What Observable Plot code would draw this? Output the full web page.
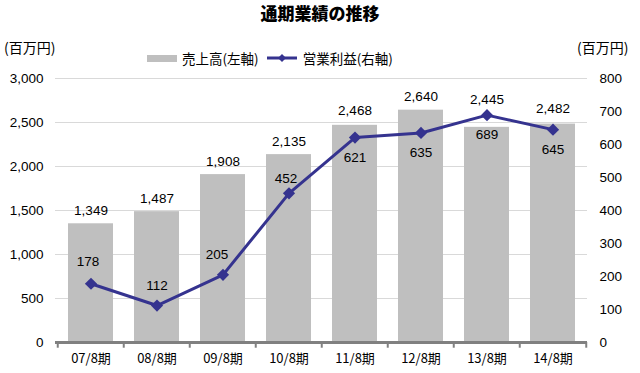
<!DOCTYPE html>
<html><head><meta charset="utf-8">
<script src="https://cdn.jsdelivr.net/npm/d3@7"></script>
<script src="https://cdn.jsdelivr.net/npm/@observablehq/plot@0.6"></script>
<style>
body{margin:0;background:#fff;font-family:"Liberation Sans","Noto Sans CJK JP",sans-serif;}
#wrap{position:relative;width:640px;height:373px;}
#wrap svg{position:absolute;left:0;top:0;}
.t{position:absolute;white-space:nowrap;color:#000;}
#title{left:0;width:640px;text-align:center;top:0px;font-size:17px;font-weight:900;font-family:"Noto Sans CJK JP",sans-serif;}
.unit{top:37px;font-size:14px;font-family:"Noto Sans CJK JP",sans-serif;}
#legend{top:48px;left:147px;font-size:13.5px;font-family:"Noto Sans CJK JP",sans-serif;display:flex;align-items:center;}
</style></head>
<body><div id="wrap">
<div id="title" class="t">通期業績の推移</div>
<div class="t unit" style="left:4px">(百万円)</div>
<div class="t unit" style="left:577px">(百万円)</div>
<div id="legend" class="t"></div>
</div>
<script>
const periods = ["07/8期","08/8期","09/8期","10/8期","11/8期","12/8期","13/8期","14/8期"];
const sales = [1349,1487,1908,2135,2468,2640,2445,2482];
const profit = [178,112,205,452,621,635,689,645];
const leftTicks = [0,500,1000,1500,2000,2500,3000];
const rightTicks = [0,100,200,300,400,500,600,700,800];
const salesName = "売上高(左軸)";
const profitName = "営業利益(右軸)";
// label offsets (above / below)
const salesLabelDy = [-13,-13,-13,-13,-15,-14,-28,-15];
const profitLabelDy = [-22,-20,-20,-15,20,20,20,20];
const profitLabelDx = [-3,0,-6,-3,0,0,0,0];

const barColor = "#bfbfbf";
const lineColor = "#35338f";
const k = 3000/800;
const data = periods.map((p,i)=>({p, s:sales[i], v:profit[i], vs:profit[i]*k, sdy:salesLabelDy[i], dy:profitLabelDy[i], dx:profitLabelDx[i]}));
const fmt = d3.format(",");
const half = 532/8/2;

const plot = Plot.plot({
  width:640, height:373,
  marginTop:78, marginBottom:31, marginLeft:55, marginRight:53,
  style:{fontFamily:"'Liberation Sans','Noto Sans CJK JP',sans-serif", fontSize:"13.5px", color:"#000", background:"transparent"},
  x:{domain:periods, paddingInner:0.32, paddingOuter:0.16, align:0.5, label:null},
  y:{domain:[0,3000], label:null},
  marks:[
    Plot.gridY(leftTicks,{stroke:"#d9d9d9", strokeOpacity:1}),
    Plot.barY(data,{x:"p", y:"s", fill:barColor}),
    ...data.map(d=>Plot.text([d],{x:"p", y:"s", text:e=>fmt(e.s), dy:d.sdy, fill:"#000"})),
    Plot.line(data,{x:"p", y:"vs", stroke:lineColor, strokeWidth:3}),
    Plot.dot(data,{x:"p", y:"vs", symbol:"diamond2", r:5.5, fill:lineColor, stroke:null}),
    ...data.map(d=>Plot.text([d],{x:"p", y:"vs", text:e=>String(e.v), dy:d.dy, dx:d.dx, fill:"#000"})),
    Plot.ruleY([0],{stroke:"#808080", strokeWidth:3}),
    Plot.axisX({tickSize:0, tickPadding:11, fontSize:13, fontFamily:"'Noto Sans CJK JP',sans-serif"}),
    Plot.ruleX(periods,{x:d=>d, y1:0, y2:-65, dx:-half, stroke:"#808080", strokeWidth:2}),
    Plot.ruleX(periods.slice(-1),{x:d=>d, y1:0, y2:-65, dx:half, stroke:"#808080", strokeWidth:2}),
    Plot.axisY(leftTicks,{anchor:"left", tickSize:0, tickPadding:12, tickFormat:fmt}),
    Plot.axisY(rightTicks.map(v=>v*k),{anchor:"right", tickSize:0, tickPadding:12, tickFormat:d=>String(Math.round(d/k))})
  ]
});
document.getElementById("wrap").prepend(plot);

const lg = document.getElementById("legend");
lg.innerHTML = `<span style="display:inline-block;width:30px;height:7px;background:${barColor};margin-right:5px"></span><span>${salesName}</span>
<svg width="36" height="12" style="position:static;margin:0 2px 0 6px"><line x1="2" y1="6" x2="32" y2="6" stroke="${lineColor}" stroke-width="3"/><path d="M17 2 L21 6 L17 10 L13 6 Z" fill="${lineColor}"/></svg><span>${profitName}</span>`;
</script>
</body></html>
